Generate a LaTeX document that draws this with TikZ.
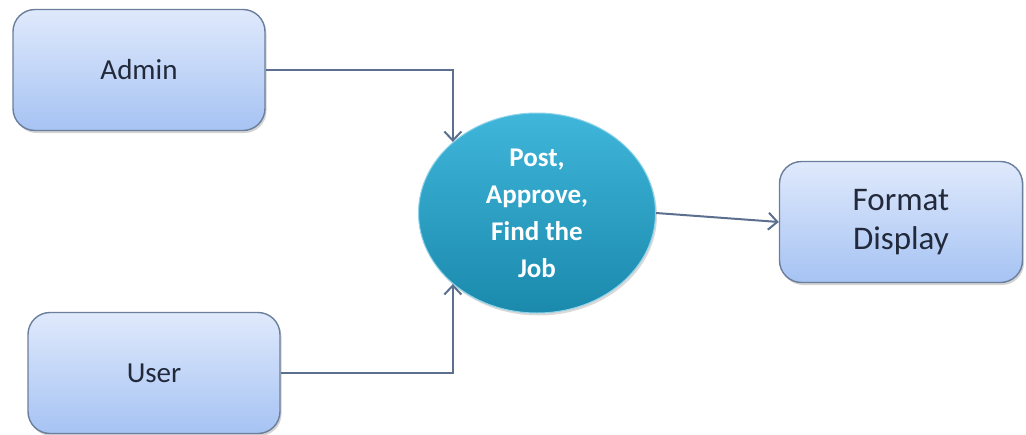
\documentclass[tikz,border=0pt]{standalone}
\usepackage{fontspec}
\setmainfont{Carlito}
\usetikzlibrary{shapes, arrows.meta, shadows}
\definecolor{boxtop}{HTML}{DFE9FC}
\definecolor{boxbot}{HTML}{A6C3F3}
\definecolor{boxline}{HTML}{6B7E9C}
\definecolor{jobtop}{HTML}{3FB6DA}
\definecolor{jobbot}{HTML}{1A89AC}
\definecolor{linkcol}{HTML}{5C6F8E}
\definecolor{labelcol}{HTML}{22293A}
\tikzstyle{entity} = [rectangle, rounded corners=22pt, minimum width=252pt, minimum height=121pt, draw=boxline, line width=1.4pt, top color=boxtop, bottom color=boxbot, drop shadow={shadow xshift=1.5pt, shadow yshift=-2.5pt, opacity=0.35}, text=labelcol, align=center, font=\fontsize{29}{39}\selectfont]
\tikzstyle{process} = [ellipse, minimum width=237pt, minimum height=200pt, draw=jobtop!60!white, line width=1pt, top color=jobtop, bottom color=jobbot, drop shadow={shadow xshift=1.5pt, shadow yshift=-2.5pt, opacity=0.3}, text=white, align=center, font=\bfseries\fontsize{27}{37}\selectfont]
\tikzstyle{arrow} = [line width=2pt, draw=linkcol, -{Straight Barb[length=9pt, width=17pt, line width=2pt]}]

\begin{document}
\begin{tikzpicture}[x=1pt, y=-1pt]
\useasboundingbox (0,0) rectangle (1026,434);

\node[entity] (admin) at (139,70) {Admin};
\node[entity] (user) at (154,373) {User};
\node[process] (jobs) at (537,213) {Post,\\Approve,\\Find the\\Job};
\node[entity, minimum width=243pt, font=\fontsize{33}{39}\selectfont] (format) at (901,222) {Format\\Display};

\draw[arrow] (admin.east) -| (jobs.north west);
\draw[arrow] (user.east) -| (jobs.south west);
\draw[arrow] (jobs.east) -- (format.west);
\end{tikzpicture}
\end{document}
